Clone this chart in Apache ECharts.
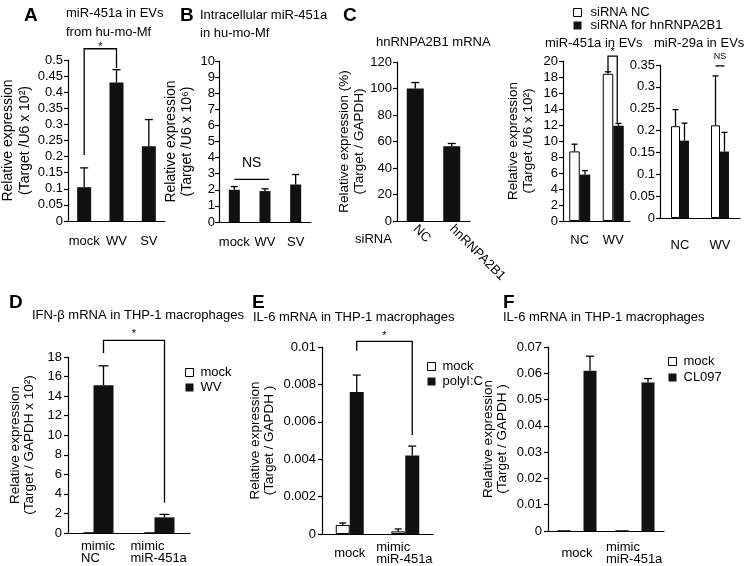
<!DOCTYPE html>
<html><head><meta charset="utf-8">
<script src="https://cdn.jsdelivr.net/npm/echarts@6/dist/echarts.min.js"></script>
<style>html,body{margin:0;padding:0;background:#fff}#c{width:745px;height:566px}</style>
</head><body><div id="c"></div>
<script>
// ---------------- data ----------------
// A: miR-451a in EVs from hu-mo-Mf
const aCats = ['mock', 'WV', 'SV'];
const aVals = [0.105, 0.43, 0.232];
const aErr = [0.165, 0.47, 0.315];
const aTicks = [0, 0.05, 0.1, 0.15, 0.2, 0.25, 0.3, 0.35, 0.4, 0.45, 0.5];
const aSig = [[0, 0.205, 1, 0.475, 0.535, '*']];
// B: Intracellular miR-451a
const bCats = ['mock', 'WV', 'SV'];
const bVals = [2.0, 1.92, 2.33];
const bErr = [2.2, 2.06, 2.95];
const bTicks = [0, 1, 2, 3, 4, 5, 6, 7, 8, 9, 10];
const bSig = [[0, 2.65, 1, 2.65, 2.65, 'NS']];
// C (left): hnRNPA2B1 mRNA
const c1Cats = ['NC', 'hnRNPA2B1'];
const c1Vals = [100, 56.5];
const c1Err = [104.5, 58.5];
const c1Ticks = [0, 20, 40, 60, 80, 100, 120];
// C (right): miR-451a / miR-29a in EVs
const c2Cats = ['NC', 'WV'];
const c2aNC = [8.7, 18.4];
const c2aNCErr = [9.6, 18.65];
const c2aKD = [5.8, 11.9];
const c2aKDErr = [6.3, 12.2];
const c2aTicks = [0, 2, 4, 6, 8, 10, 12, 14, 16, 18, 20];
const c2aSig = [[1, 18.7, 1, 12.3, 20.6, '*']];
const c2bNC = [0.21, 0.212];
const c2bNCErr = [0.248, 0.325];
const c2bKD = [0.177, 0.152];
const c2bKDErr = [0.217, 0.196];
const c2bTicks = [0, 0.05, 0.1, 0.15, 0.2, 0.25, 0.3, 0.35];
const c2bSig = [[1, 0.348, 1, 0.348, 0.348, 'NS']];
// D: IFN-beta mRNA
const dCats = ['mimic\nNC', 'mimic\nmiR-451a'];
const dMock = [0, 0];
const dWV = [15.1, 1.6];
const dWVErr = [17.1, 1.9];
const dTicks = [0, 2, 4, 6, 8, 10, 12, 14, 16, 18];
const dSig = [[0, 18.4, 1, 3.1, 19.7, '*']];
// E: IL-6 mRNA, polyI:C
const eCats = ['mock', 'mimic\nmiR-451a'];
const eMock = [0.00048, 0.00014];
const eMockErr = [0.00059, 0.00027];
const ePoly = [0.0076, 0.0042];
const ePolyErr = [0.0085, 0.0047];
const eTicks = [0, 0.002, 0.004, 0.006, 0.008, 0.01];
const eSig = [[0, 0.0098, 1, 0.0053, 0.0103, '*']];
// F: IL-6 mRNA, CL097
const fCats = ['mock', 'mimic\nmiR-451a'];
const fMock = [0, 0];
const fCL = [0.061, 0.0565];
const fCLErr = [0.0665, 0.058];
const fTicks = [0, 0.01, 0.02, 0.03, 0.04, 0.05, 0.06, 0.07];

// ---------------- helpers ----------------
const FONT = "'Liberation Sans', Arial, Helvetica, sans-serif";
const BLACK = '#111';
const cv = document.createElement('canvas').getContext('2d');
cv.font = '13px ' + FONT;

function T(text, left, top, size, bold, lh) {
  return { text, left, top, padding: 0, itemGap: 0,
    textStyle: { fontFamily: FONT, fontSize: size, fontWeight: bold ? 'bold' : 'normal', color: '#000', lineHeight: lh || size + 4 } };
}
function yAx(g, ticks, name, gap, o) {
  o = o || {};
  return { gridIndex: g, type: 'value', min: ticks[0], max: ticks[ticks.length - 1],
    interval: +(ticks[1] - ticks[0]).toFixed(6),
    name: name, nameLocation: 'middle', nameRotate: 90, nameGap: gap,
    nameTextStyle: { fontFamily: FONT, fontSize: o.nfs || 13.5, lineHeight: o.nlh || 14, color: '#000' },
    axisLine: { show: true, lineStyle: { color: '#000', width: 1.2 } },
    axisTick: { show: true, inside: false, length: 4, lineStyle: { color: '#000', width: 1.2 } },
    axisLabel: { fontFamily: FONT, fontSize: o.lfs || 13, color: '#000', margin: o.lm || 6, showMinLabel: true, showMaxLabel: true },
    splitLine: { show: false } };
}
function xAx(g, data, o) {
  return { gridIndex: g, type: 'category', data: data, boundaryGap: true,
    axisLine: { show: true, lineStyle: { color: '#000', width: 1.2 } },
    axisTick: { show: false },
    axisLabel: Object.assign({ fontFamily: FONT, fontSize: 13, color: '#000', margin: 13, interval: 0, lineHeight: 12 }, o || {}) };
}
// left-aligned multi-line labels, block centred on the category
function leftLines(cats, margin) {
  const rich = {};
  cats.forEach((c, i) => {
    const w = Math.max.apply(null, c.split('\n').map(s => cv.measureText(s).width));
    rich['r' + i] = { width: Math.ceil(w) + 1, align: 'left', fontFamily: FONT, fontSize: 13, lineHeight: 12, color: '#000' };
  });
  return { verticalAlign: 'middle', margin: margin, rich: rich,
    formatter: (v, i) => v.indexOf('\n') < 0 ? v : v.split('\n').map(s => '{r' + i + '|' + s + '}').join('\n') };
}
function bar(name, g, data, color, bw, gap) {
  return { type: 'bar', name: name, xAxisIndex: g, yAxisIndex: g, data: data, barWidth: bw, barGap: gap || 0,
    itemStyle: { color: color, borderColor: '#000', borderWidth: color === '#fff' ? 1 : 0 },
    emphasis: { disabled: true }, z: 2, animation: false };
}
function err(name, g, vals, errs, shift, cap) {
  return { type: 'custom', name: name, xAxisIndex: g, yAxisIndex: g, clip: false, z: 4, silent: true,
    data: vals.map((v, i) => [i, v, errs[i]]),
    renderItem: (p, api) => {
      const b = api.coord([api.value(0), api.value(1)]);
      const t = api.coord([api.value(0), api.value(2)]);
      const x = b[0] + shift;
      return { type: 'group', children: [
        { type: 'line', shape: { x1: x, y1: b[1], x2: x, y2: t[1] }, style: { stroke: '#000', lineWidth: 1.3 } },
        { type: 'line', shape: { x1: x - cap, y1: t[1], x2: x + cap, y2: t[1] }, style: { stroke: '#000', lineWidth: 1.3 } }
      ] };
    } };
}
function sig(name, g, rows, o) {
  return { type: 'custom', name: name, xAxisIndex: g, yAxisIndex: g, clip: false, z: 5, silent: true,
    data: rows.map(r => [r[0], r[1], r[2], r[3], r[4]]),
    renderItem: (p, api) => {
      const p1 = api.coord([api.value(0), api.value(1)]);
      const p2 = api.coord([api.value(2), api.value(3)]);
      const pt = api.coord([api.value(0), api.value(4)]);
      const x1 = p1[0] + o.s1, x2 = p2[0] + o.s2, yt = pt[1];
      return { type: 'group', children: [
        { type: 'polyline', shape: { points: [[x1, p1[1]], [x1, yt], [x2, yt], [x2, p2[1]]] }, style: { stroke: '#000', lineWidth: 1.3, fill: null } },
        { type: 'text', style: { text: rows[p.dataIndex][5], x: (x1 + x2) / 2, y: yt + o.dy, align: 'center', verticalAlign: 'middle', font: o.fs + 'px ' + FONT, fill: '#000' } }
      ] };
    } };
}
function leg(names, colors, left, top, gap, lh, tpad) {
  return { show: true, orient: 'vertical', left: left, top: top, padding: 0, itemGap: gap, itemWidth: 8, itemHeight: 8,
    icon: 'rect', selectedMode: false,
    textStyle: { fontFamily: FONT, fontSize: 13, color: '#000', lineHeight: lh, padding: [0, 0, 0, tpad] },
    data: names.map((n, i) => ({ name: n, icon: 'rect',
      itemStyle: { color: colors[i], borderColor: '#000', borderWidth: colors[i] === '#fff' ? 1 : 0 } })) };
}
const G = (left, top, width, height) => ({ left, top, width, height, containLabel: false, outerBoundsMode: 'none' });

// ---------------- option ----------------
const option = {
  animation: false,
  textStyle: { fontFamily: FONT },
  title: [
    T('A', 24, 4, 19, true),
    T('miR-451a in EVs\nfrom hu-mo-Mf', 66, 4, 13, false, 19),
    T('B', 180, 4, 19, true),
    T('Intracellular miR-451a\nin hu-mo-Mf', 200, 6, 13, false, 18),
    T('C', 343, 4, 19, true),
    T('hnRNPA2B1 mRNA', 376, 33, 13, false, 19),
    T('miR-451a in EVs', 545, 34, 13, false, 19),
    T('miR-29a in EVs', 654, 34, 13, false, 19),
    T('D', 9, 291, 19, true),
    T('IFN-\u03b2 mRNA in THP-1 macrophages', 32, 307, 13, false, 17),
    T('E', 252, 291, 19, true),
    T('IL-6 mRNA in THP-1 macrophages', 253, 309, 13, false, 17),
    T('F', 503, 291, 19, true),
    T('IL-6 mRNA in THP-1 macrophages', 503, 309, 13, false, 17)
  ],
  graphic: [
    { type: 'text', left: 355, top: 233, style: { text: 'siRNA', font: '13px ' + FONT, fill: '#000' } }
  ],
  legend: [
    leg(['siRNA NC', 'siRNA for hnRNPA2B1'], ['#fff', BLACK], 573, 6, 0, 12, 4),
    leg(['mock', 'WV'], ['#fff', BLACK], 185, 366, 2, 13, 2),
    leg(['mock', 'polyI:C'], ['#fff', BLACK], 427, 360, 2, 13, 2),
    leg(['mock', 'CL097'], ['#fff', BLACK], 668, 355, 3, 13, 2)
  ],
  grid: [
    G(68, 60, 97, 161),
    G(219, 61, 92, 161),
    G(397, 62, 73, 159),
    G(563, 61, 67, 160),
    G(660, 65, 80, 153),
    G(68, 357, 122, 176),
    G(322, 347, 111, 187),
    G(548, 347, 116, 184)
  ],
  xAxis: [
    xAx(0, aCats, { margin: 14 }),
    xAx(1, bCats, { margin: 14 }),
    xAx(2, c1Cats, { rotate: -45, margin: 6 }),
    xAx(3, c2Cats, { margin: 13 }),
    xAx(4, c2Cats, { margin: 21 }),
    xAx(5, dCats, leftLines(dCats, 19)),
    xAx(6, eCats, leftLines(eCats, 19)),
    xAx(7, fCats, leftLines(fCats, 22))
  ],
  yAxis: [
    yAx(0, aTicks, 'Relative expression\n(Target /U6 x 10\u00b2)', 33, { nfs: 14, nlh: 17, lm: 5 }),
    yAx(1, bTicks, 'Relative expression\n(Target /U6 x 10\u2076)', 24, { nfs: 14, nlh: 16, lm: 4 }),
    yAx(2, c1Ticks, 'Relative expression (%)\n(Target / GAPDH)', 30, { nfs: 13.5, nlh: 15, lm: 5 }),
    yAx(3, c2aTicks, 'Relative expression\n(Target /U6 x 10\u00b2)', 27, { nfs: 13.5, nlh: 15, lm: 5 }),
    yAx(4, c2bTicks, '', 0, { lm: 5 }),
    yAx(5, dTicks, 'Relative expression\n(Target / GAPDH x 10\u00b2)', 32, { nlh: 14, lm: 6 }),
    yAx(6, eTicks, 'Relative expression\n(Target / GAPDH )', 46, { nlh: 14, lm: 6 }),
    yAx(7, fTicks, 'Relative expression\n(Target / GAPDH )', 39, { nlh: 14, lm: 6 })
  ],
  series: [
    bar('A', 0, aVals, BLACK, 14),
    err('errA', 0, aVals, aErr, 0, 4),
    sig('sigA', 0, aSig, { s1: 0, s2: 0, dy: -2, fs: 11 }),

    bar('B', 1, bVals, BLACK, 11),
    err('errB', 1, bVals, bErr, 0, 3.5),
    sig('sigB', 1, bSig, { s1: 0, s2: 4, dy: -16, fs: 14 }),

    bar('C1', 2, c1Vals, BLACK, 17),
    err('errC1', 2, c1Vals, c1Err, 0, 4),

    bar('siRNA NC', 3, c2aNC, '#fff', 10.5, 0),
    bar('siRNA for hnRNPA2B1', 3, c2aKD, BLACK, 10.5, 0),
    err('errC2aNC', 3, c2aNC, c2aNCErr, -5.25, 3),
    err('errC2aKD', 3, c2aKD, c2aKDErr, 5.25, 3),
    sig('sigC2a', 3, c2aSig, { s1: -5.25, s2: 4, dy: -4, fs: 11 }),

    bar('siRNA NC', 4, c2bNC, '#fff', 9, 0),
    bar('siRNA for hnRNPA2B1', 4, c2bKD, BLACK, 9, 0),
    err('errC2bNC', 4, c2bNC, c2bNCErr, -4.5, 3),
    err('errC2bKD', 4, c2bKD, c2bKDErr, 4.5, 3),
    sig('sigC2b', 4, c2bSig, { s1: -4.5, s2: 4.5, dy: -9, fs: 9 }),

    bar('mock', 5, dMock, '#fff', 20, '-50%'),
    bar('WV', 5, dWV, BLACK, 20, '-50%'),
    err('errD', 5, dWV, dWVErr, 5, 5),
    sig('sigD', 5, dSig, { s1: 5, s2: 5, dy: -6, fs: 11 }),

    bar('mock', 6, eMock, '#fff', 14, 0),
    bar('polyI:C', 6, ePoly, BLACK, 14, 0),
    err('errEm', 6, eMock, eMockErr, -7, 3.5),
    err('errEp', 6, ePoly, ePolyErr, 7, 4),
    sig('sigE', 6, eSig, { s1: 7, s2: 7, dy: -5, fs: 11 }),

    bar('mock', 7, fMock, '#fff', 13, '100%'),
    bar('CL097', 7, fCL, BLACK, 13, '100%'),
    err('errF', 7, fCL, fCLErr, 13, 4)
  ]
};
const chart = echarts.init(document.getElementById('c'), null, { renderer: 'canvas' });
chart.setOption(option);
</script>
</body></html>
